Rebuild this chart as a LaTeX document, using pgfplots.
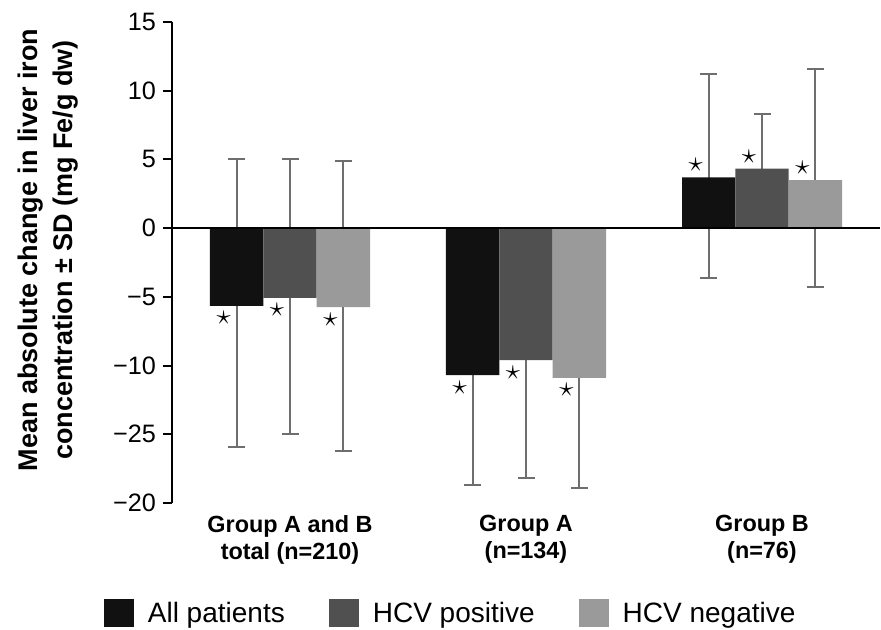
\documentclass[border=0pt]{standalone}
\usepackage{fontspec}
\setmainfont{Liberation Sans}
\usepackage{pgfplots}
\pgfplotsset{compat=1.18}
\definecolor{cAll}{HTML}{111111}
\definecolor{cPos}{HTML}{505050}
\definecolor{cNeg}{HTML}{9A9A9A}
\definecolor{errc}{HTML}{6E6E6E}
\begin{document}
\begin{tikzpicture}
\begin{axis}[
  scale only axis, width=354pt, height=240.5pt,
  xmin=-0.5, xmax=2.5, ymin=-20, ymax=15,
  axis y line=left, axis x line=bottom,
  x axis line style={draw=none},
  y axis line style={-, line width=1.3pt},
  clip=false,
  xtick={0,1,2}, xtick style={draw=none},
  xticklabels={{Group A and B\\total (n=210)},{Group A\\(n=134)},{Group B\\(n=76)}},
  xticklabel style={align=center, font=\bfseries\fontsize{11.7}{13.5}\selectfont, yshift=2pt},
  ytick={-20,-15,-10,-5,0,5,10,15},
  yticklabels={−20,−25,−10,−5,0,5,10,15},
  yticklabel style={font=\fontsize{12.6}{15}\selectfont},
  ytick style={line width=1pt, black},
  tick align=outside, major tick length=4.5pt,
  ylabel={Mean absolute change in liver iron\\concentration ± SD (mg Fe/g dw)},
  ylabel style={align=center, font=\bfseries\fontsize{13.5}{17.5}\selectfont,
    at={(axis description cs:-0.1229,0.526)}, anchor=south},
  legend style={draw=none, at={(axis description cs:0.395,-0.231)}, anchor=center,
    legend columns=3, font=\fontsize{14}{16}\selectfont,
    /tikz/every even column/.append style={column sep=20pt}},
  legend image code/.code={\fill[#1] (0pt,-6.5pt) rectangle (15pt,7.5pt); \path (20pt,0pt);},
  every node near coord/.append style={xshift=-6.5pt, inner sep=2.6pt, font=\Large, text=black},
  errbar/.style={draw=none, mark=none, color=errc, forget plot,
    error bars/.cd, y dir=both, y explicit,
    error bar style={color=errc, line width=1pt, solid},
    error mark options={color=errc, line width=1pt, mark size=4.25pt, solid, rotate=90}},
  barstyle/.style={ybar, bar width=0.226, bar shift=0pt, draw=none, fill=#1,
    nodes near coords={$\star$}},
]
% error bars (behind bars)
\addplot[errbar] coordinates {
  (-0.226,-5.65) += (0,10.65) -= (0,10.25)
  (0.774,-10.7)  += (0,8.0)   -= (0,8.0)
  (1.774,3.7)    += (0,7.5)   -= (0,7.34)
};
\addplot[errbar] coordinates {
  (0,-5.07)   += (0,10.12) -= (0,9.91)
  (1,-9.6)    += (0,8.6)   -= (0,8.6)
  (2,4.33)    += (0,3.97)  -= (0,3.5)
};
\addplot[errbar] coordinates {
  (0.226,-5.74) += (0,10.64) -= (0,10.46)
  (1.226,-10.9) += (0,8.0)   -= (0,8.0)
  (2.226,3.5)   += (0,8.1)   -= (0,7.76)
};
% bars
\addplot[barstyle=cAll] coordinates {(-0.226,-5.65) (0.774,-10.7) (1.774,3.7)};
\addplot[barstyle=cPos] coordinates {(0,-5.07) (1,-9.6) (2,4.33)};
\addplot[barstyle=cNeg] coordinates {(0.226,-5.74) (1.226,-10.9) (2.226,3.5)};
\legend{All patients, HCV positive, HCV negative}
\draw[line width=1.3pt] (axis cs:-0.5,0) -- (axis cs:2.5,0);
\end{axis}
\pgfresetboundingbox
\path[use as bounding box] ([xshift=-86pt,yshift=-63.5pt]current axis.south west) rectangle ([xshift=0.5pt,yshift=11pt]current axis.north east);
\end{tikzpicture}
\end{document}
